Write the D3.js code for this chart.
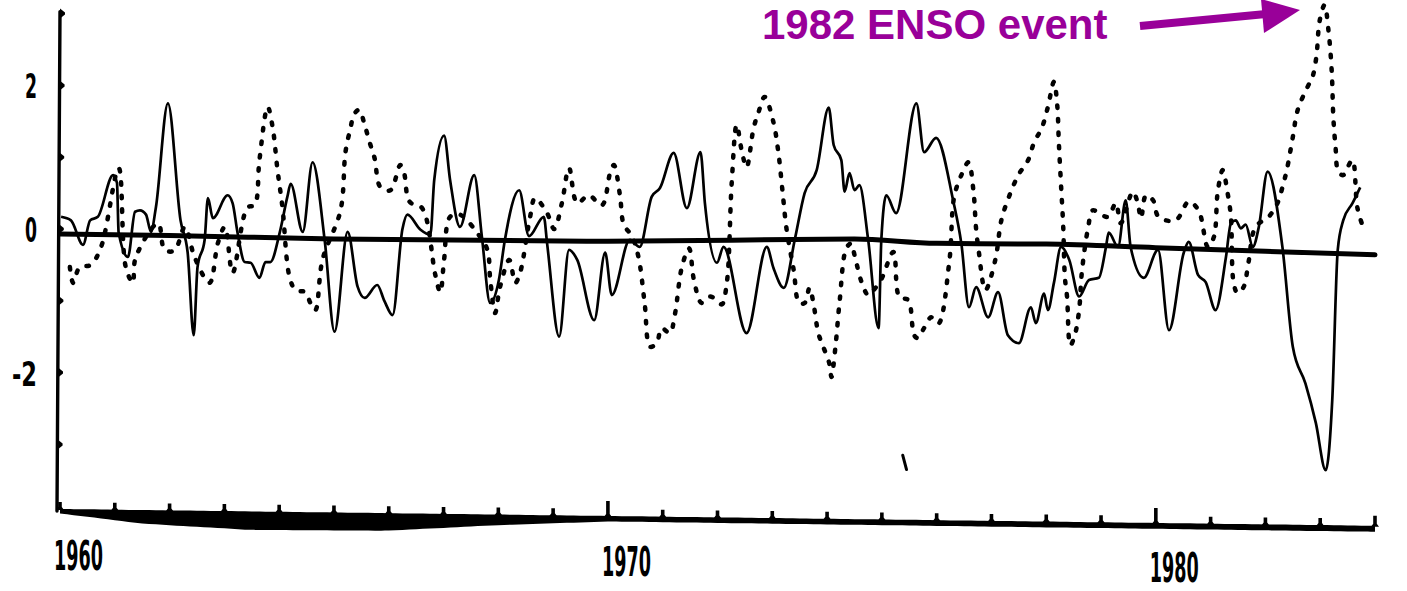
<!DOCTYPE html>
<html>
<head>
<meta charset="utf-8">
<script src="https://cdn.jsdelivr.net/npm/d3@7"></script>
<style>
  html, body { margin: 0; padding: 0; background: #fff; }
</style>
</head>
<body>
<div id="chart"></div>
<script>
// solid curve (index)
const solidYears = [1960.02,1960.20,1960.42,1960.55,1960.69,1960.97,1961.04,1961.07,1961.24,1961.37,1961.46,1961.57,1961.66,1961.75,1961.97,
  1962.20,1962.33,1962.44,1962.51,1962.64,1962.70,1962.79,1963.06,1963.15,1963.24,1963.37,1963.48,1963.64,1963.75,1963.84,
  1964.01,1964.15,1964.21,1964.43,1964.61,1964.83,1965.01,1965.25,1965.43,1965.56,1965.79,1965.92,1966.07,1966.25,1966.34,
  1966.58,1966.76,1966.83,1967.01,1967.12,1967.30,1967.56,1967.70,1967.85,1968.01,1968.12,1968.38,1968.56,1968.83,1968.89,
  1969.11,1969.29,1969.44,1969.75,1969.95,1970.07,1970.40,1970.58,1970.80,1970.95,1971.20,1971.44,1971.69,1971.77,1971.99,
  1972.11,1972.53,1972.90,1973.02,1973.21,1973.41,1973.59,1973.81,1974.03,1974.12,1974.26,1974.32,1974.41,1974.50,1974.59,
  1974.75,1974.94,1974.99,1975.08,1975.26,1975.63,1975.77,1975.99,1976.30,1976.45,1976.59,1976.72,1976.94,1977.12,1977.30,
  1977.50,1977.72,1977.81,1977.96,1978.03,1978.14,1978.27,1978.42,1978.60,1978.78,1978.96,1979.09,1979.14,1979.31,1979.45,
  1979.54,1979.78,1980.04,1980.24,1980.51,1980.60,1980.77,1980.91,1981.09,1981.28,1981.37,1981.46,1981.55,1981.64,1981.77,
  1981.88,1982.04,1982.31,1982.50,1982.73,1982.92,1983.10,1983.22,1983.32,1983.42,1983.59,1983.73];
const solidValues = [0.17,0.12,-0.22,0.12,0.17,0.75,0.64,-0.05,-0.39,0.24,0.26,0.20,-0.04,0.30,1.75,
  0.12,-0.33,-1.48,-0.53,-0.15,0.43,0.15,0.47,0.36,-0.05,-0.46,-0.47,-0.68,-0.46,-0.46,
  -0.05,0.45,0.63,-0.04,0.93,-0.15,-1.43,-0.04,-0.80,-0.96,-0.78,-1.00,-1.20,0.00,0.20,
  -0.01,-0.08,0.68,1.30,0.68,0.03,0.75,-0.11,-1.03,-0.71,-0.15,0.54,-0.10,0.17,-0.20,
  -1.50,-0.29,-0.43,-1.27,-0.33,-0.92,-0.15,-0.25,0.45,0.57,1.06,0.29,1.07,0.36,-0.47,
  -0.25,-1.45,-0.25,-0.54,-0.82,-0.15,0.50,0.82,1.69,1.17,0.96,0.52,0.78,0.54,0.61,
  -0.15,-1.38,-0.15,0.47,0.22,1.75,1.07,1.27,0.40,-0.20,-1.09,-0.81,-1.23,-0.88,-1.48,
  -1.59,-1.09,-1.31,-0.90,-1.13,-0.75,-0.25,-0.43,-0.94,-0.71,-0.68,-0.25,-0.05,-0.25,0.40,
  -0.25,-0.68,-0.29,-1.41,-0.33,-0.18,-0.64,-0.74,-1.13,-0.39,0.08,0.12,0.01,0.06,-0.25,
  0.03,0.80,-0.25,-1.64,-2.15,-2.70,-3.36,-2.38,-0.29,0.12,0.36,0.58];

// dotted curve (sea temperature)
const dottedYears = [1960.18,1960.24,1960.36,1960.56,1960.75,1961.07,1961.20,1961.33,1961.38,1961.79,1961.91,1962.09,1962.28,1962.46,
  1962.73,1962.88,1963.01,1963.15,1963.42,1963.55,1963.64,1963.79,1963.88,1963.97,1964.06,1964.19,1964.30,1964.48,1964.57,
  1964.66,1964.79,1965.12,1965.21,1965.30,1965.37,1965.46,1965.56,1965.65,1965.74,1965.85,1966.03,1966.21,1966.28,1966.38,
  1966.61,1966.85,1966.94,1967.01,1967.12,1967.30,1967.61,1967.80,1967.85,1967.94,1968.03,1968.20,1968.31,1968.40,1968.58,
  1968.67,1968.89,1969.02,1969.16,1969.29,1969.44,1969.65,1969.89,1970.04,1970.11,1970.22,1970.29,1970.44,1970.56,1970.67,
  1970.77,1970.89,1970.98,1971.13,1971.22,1971.35,1971.48,1971.57,1971.71,1971.86,1971.99,1972.08,1972.17,1972.26,1972.35,
  1972.44,1972.53,1972.66,1972.75,1972.86,1973.02,1973.11,1973.19,1973.26,1973.39,1973.49,1973.59,1973.68,1973.75,1973.84,
  1973.93,1974.04,1974.08,1974.15,1974.23,1974.35,1974.44,1974.50,1974.63,1974.75,1974.85,1974.99,1975.21,1975.32,1975.48,
  1975.59,1975.66,1975.77,1975.90,1976.03,1976.23,1976.32,1976.45,1976.58,1976.67,1976.72,1976.77,1976.89,1977.07,1977.18,
  1977.32,1977.49,1977.67,1977.78,1977.92,1978.03,1978.14,1978.20,1978.23,1978.27,1978.31,1978.34,1978.38,1978.44,1978.53,
  1978.60,1978.65,1978.76,1978.85,1979.00,1979.13,1979.27,1979.36,1979.58,1979.67,1979.73,1979.82,1979.95,1980.05,1980.36,
  1980.60,1980.78,1980.95,1981.06,1981.13,1981.22,1981.31,1981.37,1981.42,1981.49,1981.60,1981.69,1981.82,1982.06,1982.22,
  1982.33,1982.39,1982.50,1982.59,1982.77,1982.86,1982.93,1982.99,1983.08,1983.15,1983.21,1983.24,1983.28,1983.33,1983.42,
  1983.50,1983.59,1983.68,1983.79];
const dottedValues = [-0.53,-0.75,-0.53,-0.50,-0.25,0.85,-0.53,-0.75,-0.40,0.08,-0.29,-0.30,0.03,-0.40,
  -0.75,-0.20,0.03,-0.61,0.30,0.33,0.96,1.70,1.42,0.82,0.30,-0.67,-0.85,-0.88,-1.03,
  -1.13,-0.43,0.26,1.07,1.40,1.60,1.66,1.45,1.21,0.99,0.58,0.54,0.89,0.78,0.38,
  0.29,-0.64,-0.88,-0.43,0.17,0.20,-0.05,-0.29,-0.68,-1.17,-0.81,-0.43,-0.75,-0.60,0.17,
  0.43,0.22,0.00,0.36,0.85,0.36,0.47,0.33,0.78,0.89,0.47,0.06,-0.10,-0.40,-1.03,
  -1.64,-1.59,-1.38,-1.45,-1.20,-0.53,-0.27,-0.71,-1.03,-0.94,-0.99,-1.05,-0.75,0.65,1.45,
  1.10,0.86,1.41,1.63,1.84,1.49,1.07,0.50,0.00,-0.57,-1.03,-1.03,-0.82,-1.03,-1.45,
  -1.64,-1.87,-2.06,-1.66,-1.00,-0.27,-0.20,-0.36,-0.74,-0.92,-0.85,-0.70,-0.32,-0.95,-0.99,
  -1.48,-1.52,-1.38,-1.23,-1.32,-0.46,0.45,0.75,0.93,0.54,0.00,-0.32,-0.85,-0.43,0.12,
  0.45,0.75,0.96,1.21,1.41,1.70,2.05,1.73,1.20,0.61,0.03,-0.67,-0.95,-1.62,-1.45,
  -1.13,-0.60,0.00,0.26,0.20,0.17,0.36,0.08,0.52,0.36,0.15,0.47,0.40,0.17,0.12,
  0.38,0.26,-0.25,-0.11,0.52,0.82,0.50,0.17,-0.75,-0.89,-0.81,-0.47,0.03,0.17,0.36,
  0.64,0.82,1.28,1.66,1.98,2.12,2.40,2.90,3.12,2.77,2.20,1.55,1.14,0.80,0.75,
  0.86,0.96,0.29,0.01];

// slow trend line
const trendYears = [1960, 1962, 1965, 1970, 1974.5, 1976, 1978, 1980, 1984];
const trendValues = [-0.07, -0.09, -0.14, -0.17, -0.14, -0.20, -0.21, -0.26, -0.36];

const yTickValues = [-3, -2, -1, 0, 1, 2, 3];
const yTickLabels = ["-2", "0", "2"];
const xTickYears = d3.range(1960, 1985);
const xMajorYears = [1960, 1970, 1980];

const annotationText = "1982 ENSO event";

const width = 1407, height = 591;
const purple = "#990099";

const svg = d3.select("#chart").append("svg")
  .attr("width", width)
  .attr("height", height)
  .style("display", "block");

svg.append("rect").attr("width", width).attr("height", height).attr("fill", "#fff");

const x = d3.scaleLinear().domain([1960, 1984]).range([60, 1375]);
const y = d3.scaleLinear().domain([-3, 3]).range([444.4, 13.6]);

// hand drawn x axis: slightly sloping line with a heavy wedge under the 1960s
const axisTop = yr => 510 + (yr - 1960) * 0.7;
const wedge = d3.scaleLinear().domain([1960, 1961.5, 1963.5, 1966, 1968, 1970, 1984]).range([0, 9, 14, 13, 6, 1, 1.5]).clamp(true);
const axisYears = d3.range(1960, 1984.01, 0.25);
const band = d3.area()
  .x(d => x(d))
  .y0(d => axisTop(d) - 1)
  .y1(d => axisTop(d) + 3.5 + wedge(d))
  .curve(d3.curveBasis);
svg.append("path").datum(axisYears).attr("d", band).attr("fill", "#000");

svg.append("g").selectAll("path")
  .data(xTickYears)
  .join("path")
  .attr("fill", "#000")
  .attr("d", d => {
    const cx = x(d), t = axisTop(d);
    const h = xMajorYears.includes(d) && d !== 1960 ? 16 : (d === 1984 ? 11 : 8);
    return `M${cx - 4},${t} L${cx - 1.8},${t - 3} L${cx - 1.8},${t - h} L${cx + 1.8},${t - h} L${cx + 1.8},${t - 3} L${cx + 4},${t} Z`;
  });

svg.append("g").selectAll("text")
  .data(xMajorYears)
  .join("text")
  .attr("x", d => x(d) - 6)
  .attr("y", d => 570 + (d - 1960) * 0.6)
  .attr("font-family", "'DejaVu Sans Condensed', 'DejaVu Sans', sans-serif")
  .attr("font-weight", "bold")
  .attr("font-size", 40)
  .attr("textLength", 49)
  .attr("lengthAdjust", "spacingAndGlyphs")
  .attr("fill", "#000")
  .text(d => d);

// y axis
svg.append("path")
  .attr("d", `M${x(1960)},${y(3) - 2} L${x(1960) - 3},${axisTop(1960) + 1}`)
  .attr("stroke", "#000")
  .attr("stroke-width", 3.4)
  .attr("stroke-linecap", "round")
  .attr("fill", "none");

svg.append("g").selectAll("path")
  .data(yTickValues)
  .join("path")
  .attr("fill", "#000")
  .attr("d", d => {
    const cy = y(d), ax = x(1960) - (3 - d) * 0.4;
    return `M${ax},${cy - 5} L${ax + 5},${cy - 1} L${ax + 5},${cy + 1} L${ax},${cy + 5} Z`;
  });

svg.append("g").selectAll("text")
  .data(yTickLabels)
  .join("text")
  .attr("x", 37)
  .attr("y", d => y(+d) + 13)
  .attr("text-anchor", "end")
  .attr("font-family", "'DejaVu Sans Condensed', 'DejaVu Sans', sans-serif")
  .attr("font-weight", "bold")
  .attr("font-size", 34)
  .attr("textLength", d => d.length > 1 ? 25 : 12)
  .attr("lengthAdjust", "spacingAndGlyphs")
  .attr("fill", "#000")
  .text(d => d);

// series
const dotted = d3.line()
  .x((d, i) => x(dottedYears[i]))
  .y(d => y(d))
  .curve(d3.curveCatmullRom.alpha(0.5));
svg.append("path")
  .attr("d", dotted(dottedValues))
  .attr("fill", "none")
  .attr("stroke", "#000")
  .attr("stroke-width", 4.5)
  .attr("stroke-dasharray", "2.5,11")
  .attr("stroke-linecap", "round");

const solid = d3.line()
  .x((d, i) => x(solidYears[i]))
  .y(d => y(d))
  .curve(d3.curveMonotoneX);
svg.append("path")
  .attr("d", solid(solidValues))
  .attr("fill", "none")
  .attr("stroke", "#000")
  .attr("stroke-width", 2.7)
  .attr("stroke-linejoin", "round");

const trend = d3.line()
  .x((d, i) => x(trendYears[i]))
  .y(d => y(d))
  .curve(d3.curveMonotoneX);
svg.append("path")
  .attr("d", trend(trendValues))
  .attr("fill", "none")
  .attr("stroke", "#000")
  .attr("stroke-width", 5)
  .attr("stroke-linecap", "round");

// stray pen mark below the curves
svg.append("path")
  .attr("d", `M${x(1975.38)},${y(-3.15)} L${x(1975.45)},${y(-3.35)}`)
  .attr("stroke", "#000")
  .attr("stroke-width", 3)
  .attr("stroke-linecap", "round");

// annotation
svg.append("text")
  .attr("x", 762)
  .attr("y", 39)
  .attr("font-family", "'Liberation Sans', Arial, sans-serif")
  .attr("font-weight", "bold")
  .attr("font-size", 42)
  .attr("fill", purple)
  .text(annotationText);

svg.append("path")
  .attr("d", "M1140,26 L1266,14")
  .attr("stroke", purple)
  .attr("stroke-width", 8)
  .attr("fill", "none");
svg.append("path")
  .attr("d", "M1261,-1 L1300,10 L1264,33 Z")
  .attr("fill", purple);
</script>
</body>
</html>
